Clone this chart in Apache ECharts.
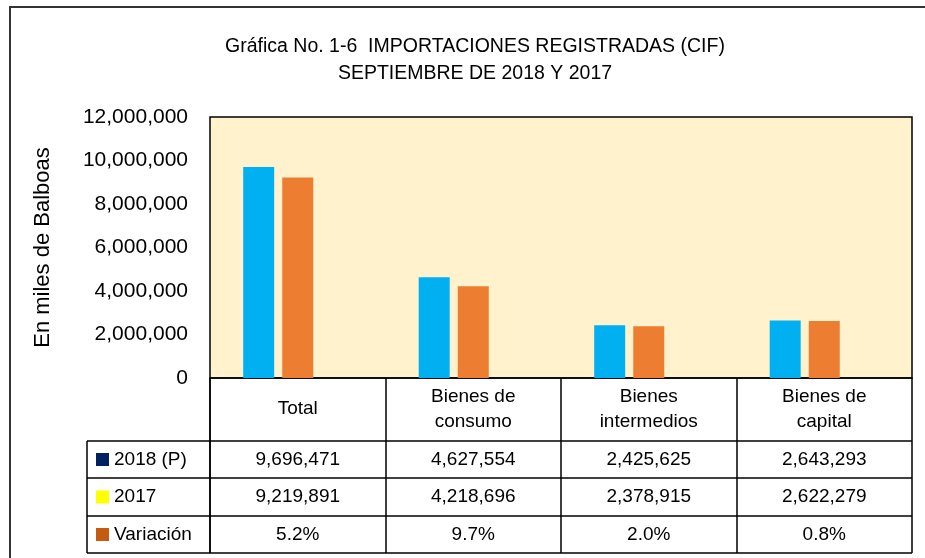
<!DOCTYPE html>
<html>
<head>
<meta charset="utf-8">
<script src="https://cdn.jsdelivr.net/npm/echarts@6/dist/echarts.min.js"></script>
<style>
  html, body { margin: 0; padding: 0; background: #fff; }
  #chart { width: 925px; height: 558px; }
</style>
</head>
<body>
<div id="chart"></div>
<script>
// datos de la grafica
var categories = ['Total', 'Bienes de\nconsumo', 'Bienes\nintermedios', 'Bienes de\ncapital'];
var values2018 = [9696471, 4627554, 2425625, 2643293];
var values2017 = [9219891, 4218696, 2378915, 2622279];
var variacion = [5.2, 9.7, 2.0, 0.8];
var rowNames = ['2018 (P)', '2017', 'Variación'];
var keyColors = ['#002060', '#FFFF00', '#C55A11'];
var yTicks = [0, 2000000, 4000000, 6000000, 8000000, 10000000, 12000000];

var FONT = '"Liberation Sans", Arial, sans-serif';
var gridL = 210, gridR = 912, gridT = 117, gridB = 378;
var rowY = [441, 478, 516, 553];   // lineas horizontales de la tabla
var tableLeft = 87;

function fmt(n) { return n.toLocaleString('en-US'); }

var myChart = echarts.init(document.getElementById('chart'));
myChart.setOption({
  animation: false,
  backgroundColor: '#fff',
  textStyle: { fontFamily: FONT, color: '#000' },
  title: {
    text: 'Gráfica No. 1-6  IMPORTACIONES REGISTRADAS (CIF)\nSEPTIEMBRE DE 2018 Y 2017',
    left: 470, top: 28, textAlign: 'center',
    textStyle: { fontFamily: FONT, fontSize: 19.5, fontWeight: 'normal', color: '#000', lineHeight: 27 }
  },
  grid: {
    left: gridL, top: gridT, width: gridR - gridL, height: gridB - gridT,
    show: true, backgroundColor: '#FFF2CC', borderColor: '#000', borderWidth: 1.5
  },
  xAxis: {
    type: 'category',
    data: categories,
    axisLine: { lineStyle: { color: '#000', width: 1.5 } },
    axisTick: { show: true, interval: 0, length: rowY[3] - gridB, lineStyle: { color: '#000', width: 1.5 } },
    axisLabel: {
      interval: 0, margin: 31, fontSize: 19, lineHeight: 25,
      verticalAlign: 'middle', color: '#000', fontFamily: FONT
    }
  },
  yAxis: {
    type: 'value',
    min: yTicks[0], max: yTicks[yTicks.length - 1], interval: yTicks[1] - yTicks[0],
    axisLine: { show: false },
    axisTick: { show: false },
    splitLine: { show: false },
    axisLabel: { margin: 22, fontSize: 21, color: '#000', fontFamily: FONT, formatter: function (v) { return fmt(v); } }
  },
  series: [
    { name: rowNames[0], type: 'bar', data: values2018, barWidth: 31, barGap: '26%', itemStyle: { color: '#00B0F0' } },
    { name: rowNames[1], type: 'bar', data: values2017, barWidth: 31, barGap: '26%', itemStyle: { color: '#ED7D31' } },
    { name: rowNames[2], type: 'bar', data: variacion.map(function (v) { return v / 100; }), barWidth: 31, barGap: '26%', itemStyle: { color: '#A5A5A5' } }
  ]
});

// tabla de datos debajo del eje
var rows = [
  values2018.map(fmt),
  values2017.map(fmt),
  variacion.map(function (v) { return v.toFixed(1) + '%'; })
];
var lineStyle = { stroke: '#000', lineWidth: 1.5 };
var g = [];
// marco exterior
g.push({ type: 'rect', shape: { x: 10, y: 7, width: 940, height: 600 }, style: { fill: null, stroke: '#333', lineWidth: 2 }, silent: true });
// titulo del eje y
g.push({
  type: 'text', x: 43, y: (gridT + gridB) / 2, rotation: Math.PI / 2,
  style: { text: 'En miles de Balboas', fontSize: 22, fontFamily: FONT, fill: '#000', align: 'center', verticalAlign: 'middle' }
});
rowY.forEach(function (y) {
  g.push({ type: 'line', shape: { x1: tableLeft, y1: y, x2: gridR, y2: y }, style: lineStyle });
});
g.push({ type: 'line', shape: { x1: tableLeft, y1: rowY[0], x2: tableLeft, y2: rowY[3] }, style: lineStyle });
g.push({ type: 'line', shape: { x1: gridL, y1: gridB, x2: gridL, y2: rowY[3] }, style: lineStyle });
for (var r = 0; r < rows.length; r++) {
  var cy = (rowY[r] + rowY[r + 1]) / 2;
  g.push({ type: 'rect', shape: { x: tableLeft + 9, y: cy - 6.5, width: 13, height: 13 }, style: { fill: keyColors[r] } });
  g.push({ type: 'text', x: tableLeft + 27, y: cy, style: { text: rowNames[r], fontSize: 19, fontFamily: FONT, fill: '#000', align: 'left', verticalAlign: 'middle' } });
  for (var c = 0; c < categories.length; c++) {
    var cx = myChart.convertToPixel({ xAxisIndex: 0 }, c);
    g.push({ type: 'text', x: cx, y: cy, style: { text: rows[r][c], fontSize: 19, fontFamily: FONT, fill: '#000', align: 'center', verticalAlign: 'middle' } });
  }
}
myChart.setOption({ graphic: g });
</script>
</body>
</html>
